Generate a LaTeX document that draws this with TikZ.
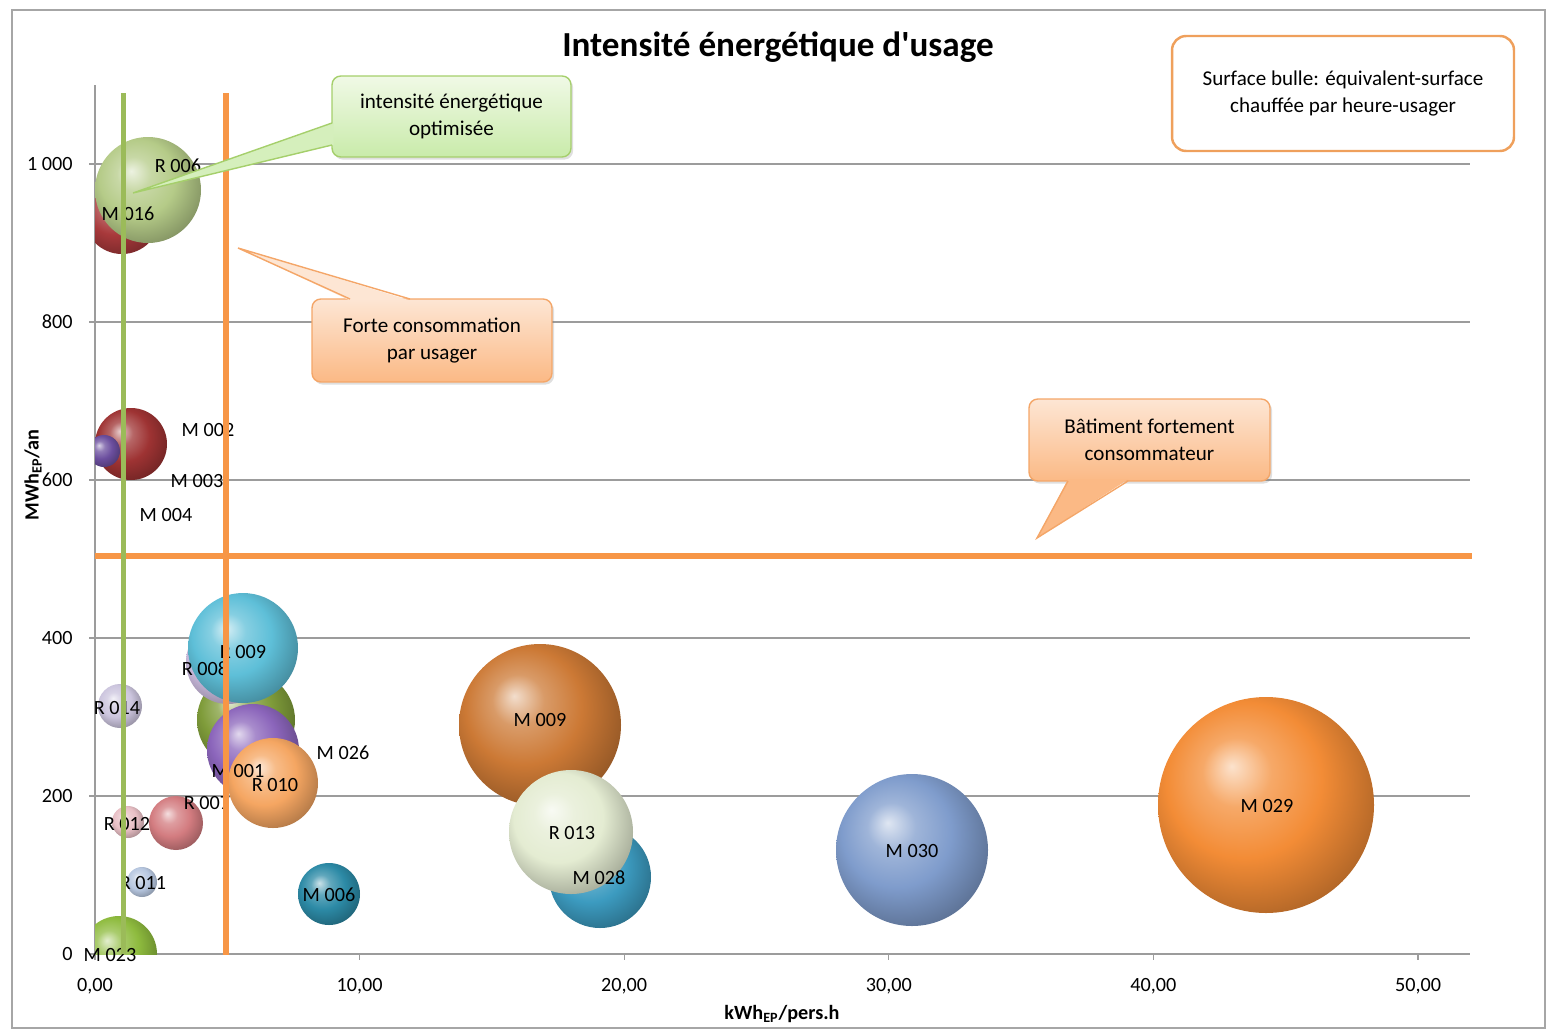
\documentclass[tikz,border=0pt]{standalone}
\usepackage{fontspec}
\setmainfont{Carlito}
\usetikzlibrary{shadows, calc}

\definecolor{cadre}{HTML}{A6A6A6}
\definecolor{grille}{HTML}{9C9C9C}
\definecolor{orLigne}{HTML}{F79646}
\definecolor{vtLigne}{HTML}{9BBB59}
\definecolor{orHaut}{HTML}{FDE6D4}
\definecolor{orBas}{HTML}{FBB985}
\definecolor{orBord}{HTML}{F4A668}
\definecolor{vtHaut}{HTML}{F0F9E6}
\definecolor{vtBas}{HTML}{C9EBAA}
\definecolor{vtBord}{HTML}{A5CF6B}
\definecolor{legBord}{HTML}{EFA05C}
% couleurs des bulles
\definecolor{bM016}{HTML}{A8393B}
\definecolor{bR006}{HTML}{B5CB88}
\definecolor{bM002}{HTML}{9E3333}
\definecolor{bViolet}{HTML}{6B4E9E}
\definecolor{bR014}{HTML}{CCC5DE}
\definecolor{bM023}{HTML}{8EBB3E}
\definecolor{bR011}{HTML}{B7C7E0}
\definecolor{bR012}{HTML}{E8BFC5}
\definecolor{bR007}{HTML}{D37C80}
\definecolor{bOlive}{HTML}{7F9C3A}
\definecolor{bM001}{HTML}{8B65BB}
\definecolor{bR010}{HTML}{F5A662}
\definecolor{bR008}{HTML}{CDBDE0}
\definecolor{bR009}{HTML}{5EBFD8}
\definecolor{bM006}{HTML}{2C8AA6}
\definecolor{bM009}{HTML}{CC7935}
\definecolor{bM028}{HTML}{3C9BC0}
\definecolor{bR013}{HTML}{E4ECD2}
\definecolor{bM030}{HTML}{7F9CCC}
\definecolor{bM029}{HTML}{F38C36}
\colorlet{bulle}{white}

% sphere plus claire que la ball shading de TikZ
\pgfdeclareradialshading[bulle]{sphere}{\pgfpoint{-8bp}{9bp}}{%
  color(0bp)=(bulle!25!white); color(8bp)=(bulle!75!white); color(18bp)=(bulle);
  color(28bp)=(bulle!78!black); color(36bp)=(bulle!60!black); color(50bp)=(bulle!50!black)}

\tikzset{
  etiq/.style={font=\fontsize{11.5}{13}\selectfont, inner sep=0pt},
  grad/.style={font=\fontsize{11.5}{13}\selectfont, inner sep=0pt},
  titreaxe/.style={font=\bfseries\fontsize{11.5}{13}\selectfont, inner sep=0pt},
  infobulle/.style={align=center, font=\fontsize{12}{15.5}\selectfont, rounded corners=5pt,
    line width=0.8pt, outer sep=0pt,
    drop shadow={opacity=0.25, shadow xshift=1.2pt, shadow yshift=-1.5pt}},
  infobulleOr/.style={infobulle, draw=orBord, top color=orHaut, bottom color=orBas},
  infobulleVert/.style={infobulle, draw=vtBord, top color=vtHaut, bottom color=vtBas},
}

\begin{document}
\begin{tikzpicture}[x=0.02cm, y=-0.02cm]
  \useasboundingbox (0,0) rectangle (1547,1031);
  \draw[cadre, line width=0.7pt] (12,10) rectangle (1545,1028);

  % grille et graduations
  \foreach \v/\txt in {0/0, 200/200, 400/400, 600/600, 800/800, 1000/1 000}{
    \pgfmathsetmacro\yy{954-0.79*\v}
    \draw[grille, line width=0.6pt] (89,\yy) -- (1470,\yy);
    \node[grad, anchor=east] (gy\v) at (73,\yy) {\txt};
  }
  \foreach \i/\txt in {0/{0,00}, 1/{10,00}, 2/{20,00}, 3/{30,00}, 4/{40,00}, 5/{50,00}}{
    \pgfmathsetmacro\xx{95+264.6*\i}
    \draw[grille, line width=0.6pt] (\xx,954) -- (\xx,960);
    \node[grad] (gx\i) at (\xx,986) {\txt};
  }
  \draw[grille, line width=0.6pt] (95,85) -- (95,954);

  % bulles
  \begin{scope}
    \clip (95,85) rectangle (1470,954);
    \foreach \nom/\cx/\cy/\ray in {M016/122/216/38, R006/148/190/53, M002/131/444/36,
        Violet/104/451/16, R014/120/706/22, M023/119/954/38, R011/142/882/15,
        R012/128/822/16, R007/176/823/27, Olive/246/720/49, M001/253/750/46,
        R010/273/783/45, R008/228/662/42, R009/243/648/55, M006/329/894/31,
        M009/540/725/81, M028/600/877/51, R013/571/832/62, M030/912/850/76,
        M029/1266/805/108}{
      \colorlet{bulle}{b\nom}
      \shade[shading=sphere] (\cx,\cy) circle (\ray);
      \coordinate (\nom) at (\cx,\cy);
    }
  \end{scope}

  % etiquettes des bulles
  \foreach \nom/\lx/\ly/\txt in {r006/178/166/R 006, m016/128/214/M 016, m002/208/430/M 002,
      m003/197/481/M 003, m004/166/515/M 004, r009/243/652/R 009, r008/205/669/R 008,
      r014/117/708/R 014, m026/343/753/M 026, m001/238/771/M 001, r010/275/785/R 010,
      r007/207/803/R 007, r012/127/824/R 012, r011/143/883/R 011, m006/329/895/M 006,
      m023/110/955/M 023, m009/540/720/M 009, r013/572/833/R 013, m028/599/878/M 028,
      m030/912/851/M 030, m029/1267/806/M 029}
    \node[etiq] (l\nom) at (\lx,\ly) {\txt};

  % seuils
  \draw[orLigne, line width=3.3pt] (226,93) -- (226,955);
  \draw[orLigne, line width=3.1pt] (95,556) -- (1472,556);
  \draw[vtLigne, line width=3.1pt] (123.5,93) -- (123.5,954);

  % commentaires
  \node[infobulleVert, minimum width=4.78cm, minimum height=1.62cm] (optim) at (451.5,116.5)
    {intensité énergétique\\optimisée};
  \coordinate (pOptim) at (133,193);
  \fill[vtBas!70!vtHaut] ($(optim.west)+(1.5,6.5)$) -- (pOptim) -- ($(optim.west)+(1.5,28.5)$) -- cycle;
  \draw[vtBord, line width=0.8pt] ($(optim.west)+(0,6.5)$) -- (pOptim) -- ($(optim.west)+(0,28.5)$);

  \node[infobulleOr, minimum width=4.8cm, minimum height=1.66cm] (forte) at (432,340.5)
    {Forte consommation\\par usager};
  \coordinate (pForte) at (238,248);
  \fill[orHaut] ($(forte.north)+(-82,1.5)$) -- (pForte) -- ($(forte.north)+(-22,1.5)$) -- cycle;
  \draw[orBord, line width=0.8pt] ($(forte.north)+(-82,0)$) -- (pForte) -- ($(forte.north)+(-22,0)$);

  \node[infobulleOr, minimum width=4.82cm, minimum height=1.64cm] (batiment) at (1149.5,440)
    {Bâtiment fortement\\consommateur};
  \coordinate (pBatiment) at (1037,538);
  \fill[orBas] ($(batiment.south)+(-81.5,-1.5)$) -- (pBatiment) -- ($(batiment.south)+(-21.5,-1.5)$) -- cycle;
  \draw[orBord, line width=0.8pt] ($(batiment.south)+(-81.5,0)$) -- (pBatiment) -- ($(batiment.south)+(-21.5,0)$);

  \node[draw=legBord, line width=1.4pt, rounded corners=8pt, fill=white, minimum width=6.84cm,
    minimum height=2.3cm, align=center, font=\fontsize{12}{15.5}\selectfont] (legende) at (1343,93.5)
    {Surface bulle: équivalent-surface\\chauffée par heure-usager};

  % titres
  \node[font=\bfseries\fontsize{20}{24}\selectfont] (titre) at (778,47)
    {Intensité énergétique d\textquotesingle usage};
  \node[titreaxe] (axeX) at (782,1014) {kWh\textsubscript{EP}/pers.h};
  \node[titreaxe, rotate=90] (axeY) at (33,475) {MWh\textsubscript{EP}/an};
\end{tikzpicture}
\end{document}
